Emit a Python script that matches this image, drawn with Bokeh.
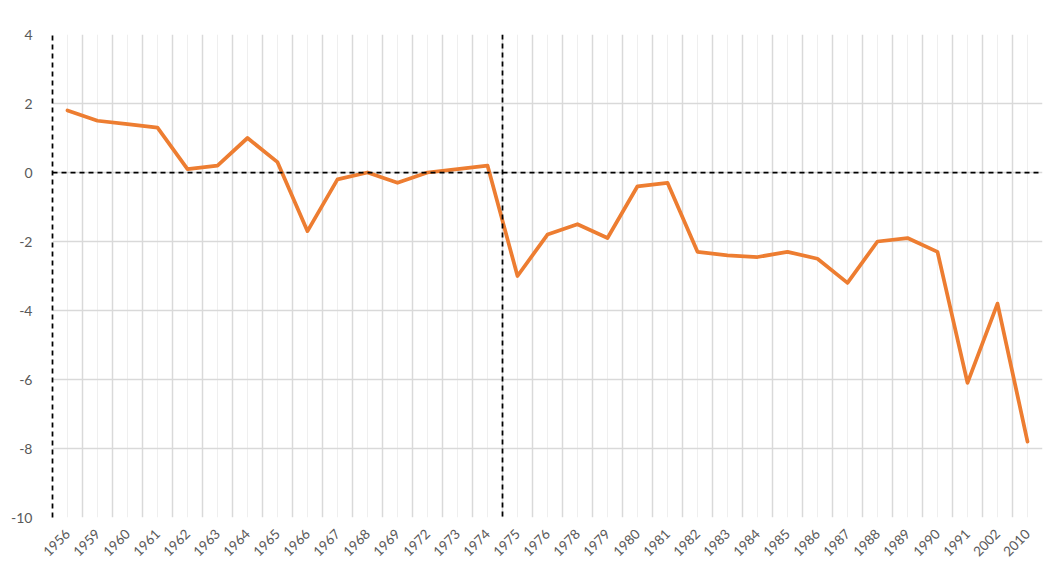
from bokeh.plotting import figure
from bokeh.models import FactorRange, Range1d, Grid, FixedTicker, Span, ColumnDataSource, BoxAnnotation
from bokeh.embed import file_html
from bokeh.resources import INLINE
import math

years = ["1956", "1959", "1960", "1961", "1962", "1963", "1964", "1965", "1966", "1967",
         "1968", "1969", "1972", "1973", "1974", "1975", "1976", "1978", "1979", "1980",
         "1981", "1982", "1983", "1984", "1985", "1986", "1987", "1988", "1989", "1990",
         "1991", "2002", "2010"]
values = [1.8, 1.5, 1.4, 1.3, 0.1, 0.2, 1.0, 0.3, -1.7, -0.2,
          0.0, -0.3, 0.0, 0.1, 0.2, -3.0, -1.8, -1.5, -1.9, -0.4,
          -0.3, -2.3, -2.4, -2.45, -2.3, -2.5, -3.2, -2.0, -1.9, -2.3,
          -6.1, -3.8, -7.8]
y_ticks = [4, 2, 0, -2, -4, -6, -8, -10]
y_labels = ["4", "2", "0", "-2", "-4", "-6", "-8", "-10"]
break_after = "1974"

W, H = 1057, 564
src = ColumnDataSource(data=dict(x=years, y=values))

p = figure(width=W, height=H, output_backend="svg", toolbar_location=None,
           x_range=FactorRange(factors=years, range_padding=0, factor_padding=0),
           y_range=Range1d(-10, 4),
           min_border_left=52, min_border_right=15, min_border_top=34, min_border_bottom=47)
p.outline_line_color = None
p.background_fill_color = "white"
p.border_fill_color = "white"

# chart border
p.add_layout(BoxAnnotation(left=1.5, right=W - 1.5, top=1.5, bottom=H - 2.5,
                           left_units="canvas", right_units="canvas",
                           top_units="canvas", bottom_units="canvas",
                           fill_color=None, fill_alpha=0, line_color="#d9d9d9",
                           line_width=1.5, level="underlay"))

# grids
p.xgrid.grid_line_color = "#efefef"
p.xgrid.grid_line_width = 1
p.ygrid.ticker = FixedTicker(ticks=y_ticks)
p.ygrid.grid_line_color = "#d9d9d9"
p.ygrid.grid_line_width = 1.5
bgrid = Grid(dimension=0, ticker=FixedTicker(ticks=list(range(0, len(years) + 1))),
             grid_line_color="#d9d9d9", grid_line_width=1.5)
p.add_layout(bgrid)

# axes
p.yaxis.ticker = FixedTicker(ticks=y_ticks)
p.yaxis.major_label_overrides = dict(zip(y_ticks, y_labels))
p.yaxis.axis_line_color = "black"
p.yaxis.axis_line_width = 1.75
p.yaxis.axis_line_dash = "5 4"
p.yaxis.major_tick_line_color = None
p.yaxis.minor_tick_line_color = None
p.yaxis.major_label_text_font = "Lato"
p.yaxis.major_label_text_font_size = "14px"
p.yaxis.major_label_text_color = "#595959"
p.yaxis.major_label_standoff = 14

p.xaxis.axis_line_color = None
p.xaxis.major_tick_line_color = None
p.xaxis.minor_tick_line_color = None
p.xaxis.major_label_orientation = math.pi / 4
p.xaxis.major_label_text_font = "Lato"
p.xaxis.major_label_text_font_size = "13.5px"
p.xaxis.major_label_text_color = "#595959"
p.xaxis.major_label_standoff = 8

# reference lines
p.add_layout(Span(location=0, dimension="width", line_color="black",
                  line_width=1.75, line_dash="5 4"))
p.add_layout(Span(location=years.index(break_after) + 1, dimension="height",
                  line_color="black", line_width=1.75, line_dash="5 4"))

p.line("x", "y", source=src, line_color="#ED7D31", line_width=3.75,
       line_join="round", line_cap="round")

open("out.html", "w").write(file_html(p, INLINE))
